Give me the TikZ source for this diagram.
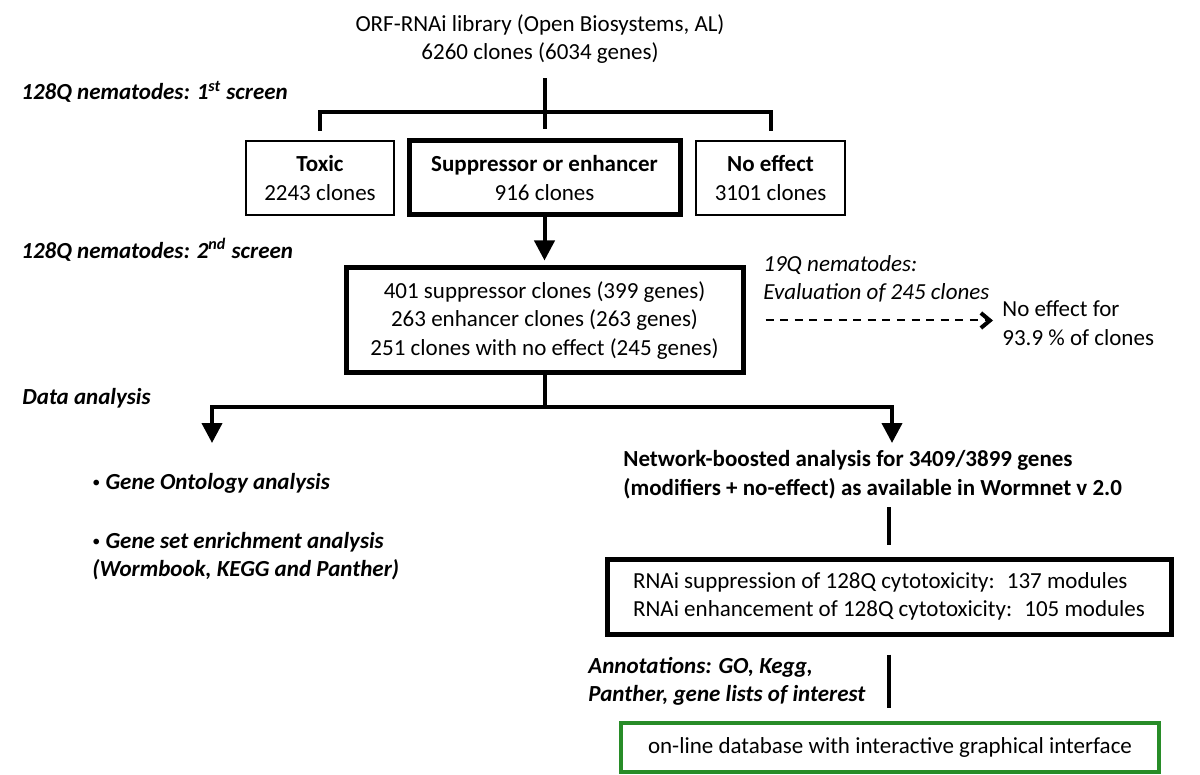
\documentclass[tikz,border=0pt]{standalone}
\usepackage{fontspec}
\setmainfont{Carlito}
\usetikzlibrary{arrows.meta}
\definecolor{dbgreen}{RGB}{40,140,40}
\newcommand{\smbullet}{{\upshape\mdseries\raisebox{0.15ex}{\fontsize{8}{8}\selectfont•}}}

\begin{document}
\begin{tikzpicture}[x=0.5pt,y=-0.5pt,
  font=\fontsize{11.5}{14.3}\selectfont,
  every node/.style={inner sep=0pt},
  thinbox/.style={draw,line width=1pt,align=center},
  thickbox/.style={draw,line width=2.5pt,align=center},
  conn/.style={line width=2pt},
  arr/.style={conn,-{Triangle[width=10pt,length=10pt]}},
  dasharr/.style={line width=1pt,dash pattern=on 4pt off 3.3pt,
    -{Straight Barb[length=4.5pt,width=7.5pt,line width=2pt]}},
  lbl/.style={anchor=west,align=left,font=\fontsize{11.5}{14.3}\selectfont\bfseries\itshape}]
  \useasboundingbox (0,0) rectangle (1200,775);

  % library and first screen
  \node[align=center] (lib) at (540,39) {ORF-RNAi library (Open Biosystems, AL)\\6260 clones (6034 genes)};
  \node[lbl] (scr1) at (21,92) {128Q nematodes: 1\textsuperscript{st} screen};
  \node[thinbox,minimum width=74pt,minimum height=37pt] (toxic) at (320,178) {\textbf{Toxic}\\2243 clones};
  \node[thickbox,minimum width=135.5pt,minimum height=37pt] (supenh) at (544.5,178) {\textbf{Suppressor or enhancer}\\916 clones};
  \node[thinbox,minimum width=74.5pt,minimum height=37pt] (noeff) at (770.5,178) {\textbf{No effect}\\3101 clones};
  \coordinate (split1) at (544.5,112);
  \draw[conn,shorten <=7pt,shorten >=4.5pt] (supenh.north |- lib.south) -- (supenh.north);
  \draw[conn,shorten <=4.5pt,shorten >=4.5pt] (toxic.north) |- (split1) -| (noeff.north);

  % second screen
  \node[lbl] (scr2) at (21,250) {128Q nematodes: 2\textsuperscript{nd} screen};
  \node[thickbox,minimum width=198.5pt,minimum height=52.5pt] (mid) at (544.5,320.5)
    {401 suppressor clones (399 genes)\\263 enhancer clones (263 genes)\\251 clones with no effect (245 genes)};
  \draw[arr,shorten >=2.5pt] (supenh.south) -- (mid.north);
  \node[anchor=west,align=left,font=\fontsize{11.5}{14.3}\selectfont\itshape] (nem19) at (763,279)
    {19Q nematodes:\\Evaluation of 245 clones};
  \node[anchor=west,align=left] (res) at (1002,323) {No effect for\\93.9 \% of clones};
  \draw[dasharr,shorten <=10pt,shorten >=4.5pt] (mid.east) -- (mid.east -| res.west);

  % data analysis
  \node[lbl] (dat) at (22,398) {Data analysis};
  \coordinate (split2) at (544.5,407);
  \coordinate (gosplit) at (212,443);
  \coordinate (netsplit) at (892,443);
  \draw[conn] (mid.south) -- (split2);
  \draw[arr] (split2) -| (gosplit);
  \draw[arr] (split2) -| (netsplit);
  \node[lbl] (go) at (92,483) {\smbullet\ Gene Ontology analysis};
  \node[lbl] (gsea) at (92,556) {\smbullet\ Gene set enrichment analysis\\(Wormbook, KEGG and Panther)};

  % network analysis
  \node[anchor=west,align=left,font=\fontsize{11.5}{14.3}\selectfont\bfseries] (net) at (623,474.5)
    {Network-boosted analysis for 3409/3899 genes\\(modifiers + no-effect) as available in Wormnet v 2.0};
  \node[thickbox,align=left,minimum width=282pt,minimum height=37.5pt] (mods) at (889,596.5)
    {RNAi suppression of 128Q cytotoxicity:~ 137 modules\\RNAi enhancement of 128Q cytotoxicity:~ 105 modules};
  \draw[conn,shorten <=4pt,shorten >=6pt] (net.south -| mods.north) -- (mods.north);
  \node[lbl] (ann) at (588,681.5) {Annotations: GO, Kegg,\\Panther, gene lists of interest};
  \node[draw=dbgreen,line width=2pt,minimum width=269pt,minimum height=24.5pt] (db) at (890,747.5)
    {on-line database with interactive graphical interface};
  \draw[conn,shorten <=9pt,shorten >=6.5pt] (mods.south) -- (mods.south |- db.north);
\end{tikzpicture}
\end{document}
